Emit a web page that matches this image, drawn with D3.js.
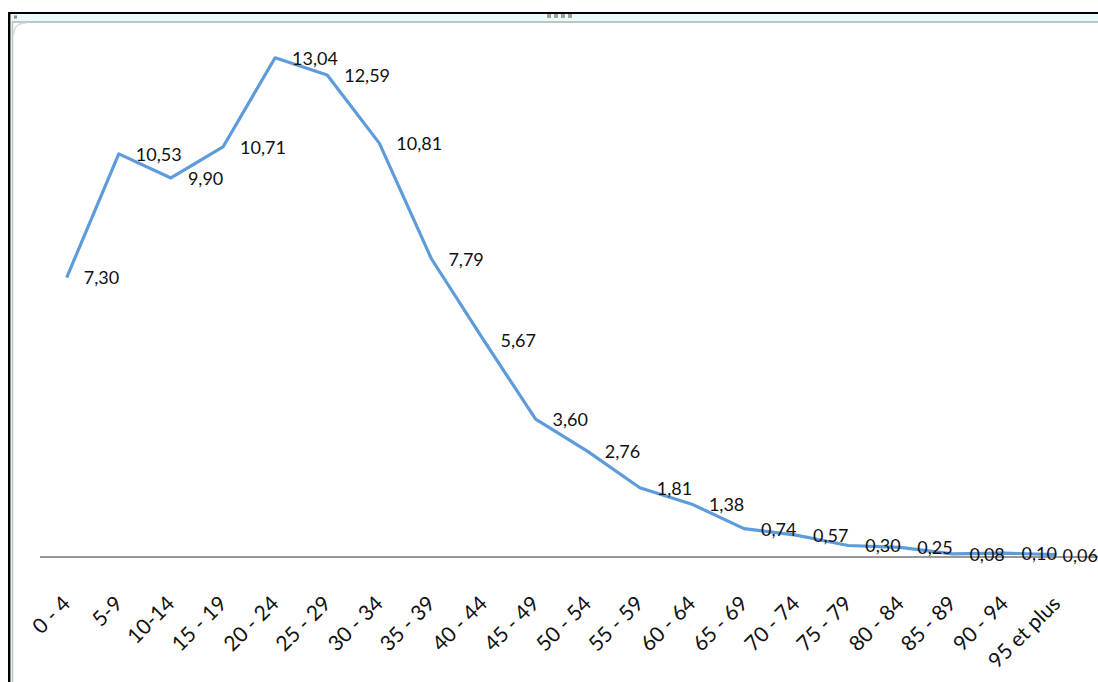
<!DOCTYPE html>
<html>
<head>
<meta charset="utf-8">
<script src="https://cdn.jsdelivr.net/npm/d3@7"></script>
<style>
  html, body { margin: 0; padding: 0; background: #fff; }
  svg { display: block; }
  text { font-family: Lato, "Open Sans", sans-serif; fill: #111; }
</style>
</head>
<body>
<svg id="chart" width="1098" height="682"></svg>
<script>
const categories = ["0 - 4","5-9","10-14","15 - 19","20 - 24","25 - 29","30 - 34","35 - 39","40 - 44","45 - 49","50 - 54","55 - 59","60 - 64","65 - 69","70 - 74","75 - 79","80 - 84","85 - 89","90 - 94","95 et plus"];
const values = [7.30,10.53,9.90,10.71,13.04,12.59,10.81,7.79,5.67,3.60,2.76,1.81,1.38,0.74,0.57,0.30,0.25,0.08,0.10,0.06];
const yDomain = [0, 14];

const W = 1098, H = 682;
const svg = d3.select("#chart");

// Frame (Excel-style chart container)
svg.append("rect").attr("x", 0).attr("y", 0).attr("width", W).attr("height", H).attr("fill", "#fff");
svg.append("rect").attr("x", 10).attr("y", 14).attr("width", W - 10).attr("height", 8).attr("fill", "#e9fbfb");
svg.append("rect").attr("x", 10).attr("y", 14).attr("width", 2.5).attr("height", H - 14).attr("fill", "#e9f6f6");
svg.append("line").attr("x1", 12).attr("x2", W).attr("y1", 22).attr("y2", 22).attr("stroke", "#bfc4c4").attr("stroke-width", 2);
svg.append("line").attr("x1", 12.5).attr("x2", 12.5).attr("y1", 22).attr("y2", H).attr("stroke", "#bfc4c4").attr("stroke-width", 1.5);
// rounded inner corner
svg.append("path").attr("d", "M13.5,35 Q14,23 26,23").attr("fill", "none").attr("stroke", "#d6dada").attr("stroke-width", 1.5);
// black outer border
svg.append("line").attr("x1", 8).attr("x2", W).attr("y1", 13).attr("y2", 13).attr("stroke", "#000").attr("stroke-width", 2.2);
svg.append("line").attr("x1", 9.2).attr("x2", 9.2).attr("y1", 12).attr("y2", H).attr("stroke", "#000").attr("stroke-width", 2.4);
// small corner dot and resize handle
svg.append("rect").attr("x", 14).attr("y", 15.5).attr("width", 3).attr("height", 3).attr("fill", "#8a8a8a");
svg.selectAll("rect.handle").data(d3.range(4)).join("rect")
  .attr("class", "handle")
  .attr("x", i => 547 + i * 7).attr("y", 14).attr("width", 4).attr("height", 4)
  .attr("fill", "#a0a0a0");

// Scales
const x = d3.scalePoint().domain(categories).range([66.7, 1056.6]);
const y = d3.scaleLinear().domain(yDomain).range([557, 21]);

// Category axis line
svg.append("line")
  .attr("x1", 40).attr("x2", W)
  .attr("y1", y(0)).attr("y2", y(0))
  .attr("stroke", "#999").attr("stroke-width", 2);

// Category labels
svg.append("g").selectAll("text").data(categories).join("text")
  .attr("transform", d => `translate(${x(d) + 5},${y(0) + 48}) rotate(-45)`)
  .attr("text-anchor", "end")
  .style("font-size", "21px")
  .text(d => d);

// Line
const line = d3.line().x((d, i) => x(categories[i])).y(d => y(d));
svg.append("path")
  .datum(values)
  .attr("d", line)
  .attr("fill", "none")
  .attr("stroke", "#5e9bdb")
  .attr("stroke-width", 3.2)
  .attr("stroke-linejoin", "round");

// Data labels
const locale = d3.formatLocale({ decimal: ",", thousands: " ", grouping: [3], currency: ["", " €"] });
const fmt = locale.format(".2f");
const labels = svg.append("g").selectAll("text").data(values).join("text")
  .attr("y", d => y(d))
  .attr("dy", "0.38em")
  .style("font-size", "18px")
  .text(d => fmt(d));
const chartRight = 1098;
labels.each(function(d, i) {
  const w = this.getComputedTextLength();
  const lx = Math.min(x(categories[i]) + 17, chartRight - w);
  d3.select(this).attr("x", lx);
});
</script>
</body>
</html>
